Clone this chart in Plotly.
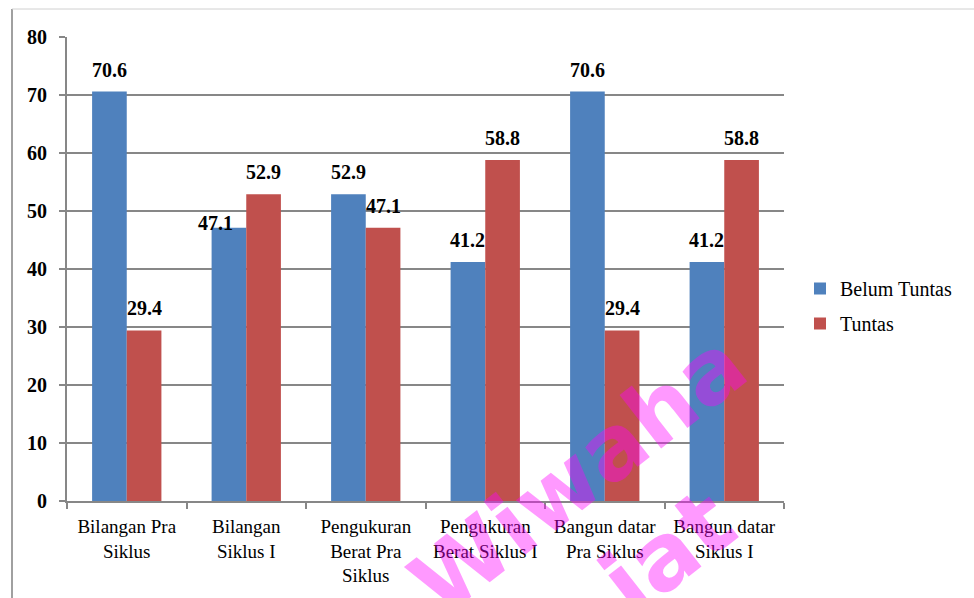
import plotly.graph_objects as go

categories = ["Bilangan Pra<br>Siklus", "Bilangan<br>Siklus I", "Pengukuran<br>Berat Pra<br>Siklus",
              "Pengukuran<br>Berat Siklus I", "Bangun datar<br>Pra Siklus", "Bangun datar<br>Siklus I"]
belum_tuntas = [70.6, 47.1, 52.9, 41.2, 70.6, 41.2]
tuntas = [29.4, 52.9, 47.1, 58.8, 29.4, 58.8]
y_ticks = [0, 10, 20, 30, 40, 50, 60, 70, 80]

W, H = 974, 598
L, R, T, B = 67, 784, 37, 501
ML, MR, MT, MB = L, W - R, T, H - B


def px(x):
    return (x - L) / (R - L)


def py(y):
    return (B - y) / (B - T)


BLUE = "#4F81BD"
RED = "#C0504D"
SERIF = "Times New Roman"

fig = go.Figure()
fig.add_trace(go.Bar(x=categories, y=belum_tuntas, name="Belum Tuntas", marker_color=BLUE,
                     marker_line_width=0, legendgroup="a"))
fig.add_trace(go.Bar(x=categories, y=tuntas, name="Tuntas", marker_color=RED,
                     marker_line_width=0, legendgroup="b"))

# data labels
half = 17.3
nudge = {(0, 1): (-13, -17)}  # (series, category index): (dx, dy) extra nudges
annotations = []
for si, (vals, side) in enumerate([(belum_tuntas, -1), (tuntas, 1)]):
    for ci, (c, v) in enumerate(zip(categories, vals)):
        dx, dy = nudge.get((si, ci), (0, 0))
        annotations.append(dict(x=c, y=v, xref="x", yref="y", text=f"<b>{v:.1f}</b>",
                                showarrow=False, xshift=side * half + dx, yshift=22 + dy,
                                yanchor="middle", xanchor="center",
                                font=dict(family=SERIF, size=20, color="black")))

# watermark
wm = "rgba(255,0,255,0.4)"
annotations.append(dict(x=px(578), y=py(474), xref="paper", yref="paper", text="<b>Wiwaha</b>",
                        xanchor="center", yanchor="middle",
                        showarrow=False, textangle=-38, font=dict(family="DejaVu Sans", size=89, color=wm)))
annotations.append(dict(x=px(668), y=py(552), xref="paper", yref="paper", text="<b>iat</b>",
                        xanchor="center", yanchor="middle",
                        showarrow=False, textangle=-38, font=dict(family="DejaVu Sans", size=92, color=wm)))

shapes = [
    dict(type="line", xref="paper", yref="paper", x0=px(12), x1=px(12), y0=py(9), y1=py(H + 5),
         line=dict(color="#A0A0A0", width=2)),
    dict(type="line", xref="paper", yref="paper", x0=px(12), x1=px(W + 5), y0=py(9), y1=py(9),
         line=dict(color="#D0D0D0", width=1)),
]

fig.update_layout(
    width=W, height=H,
    margin=dict(l=ML, r=MR, t=MT, b=MB),
    paper_bgcolor="white", plot_bgcolor="white",
    barmode="group", bargap=0.42, bargroupgap=0,
    annotations=annotations, shapes=shapes,
    legend=dict(x=px(800), y=py(269), xanchor="left", yanchor="top",
                font=dict(family=SERIF, size=20, color="black"),
                tracegroupgap=6, bgcolor="rgba(0,0,0,0)"),
    showlegend=True,
)
fig.update_xaxes(type="category", showline=True, linecolor="#878787", linewidth=2,
                 ticks="outside", tickson="boundaries", ticklen=6, tickwidth=2, tickcolor="#878787",
                 ticklabelstandoff=7,
                 tickfont=dict(family=SERIF, size=19, color="black"), showgrid=False)
fig.update_yaxes(range=[0, 80], tickvals=y_ticks, ticktext=[f"<b>{t}</b>" for t in y_ticks],
                 showline=True, linecolor="#878787", linewidth=2,
                 ticks="outside", ticklen=6, tickwidth=2, tickcolor="#878787",
                 showgrid=True, gridcolor="#878787", gridwidth=2, zeroline=False,
                 ticklabelstandoff=8,
                 tickfont=dict(family=SERIF, size=20, color="black"))

fig.write_html("out.html")
